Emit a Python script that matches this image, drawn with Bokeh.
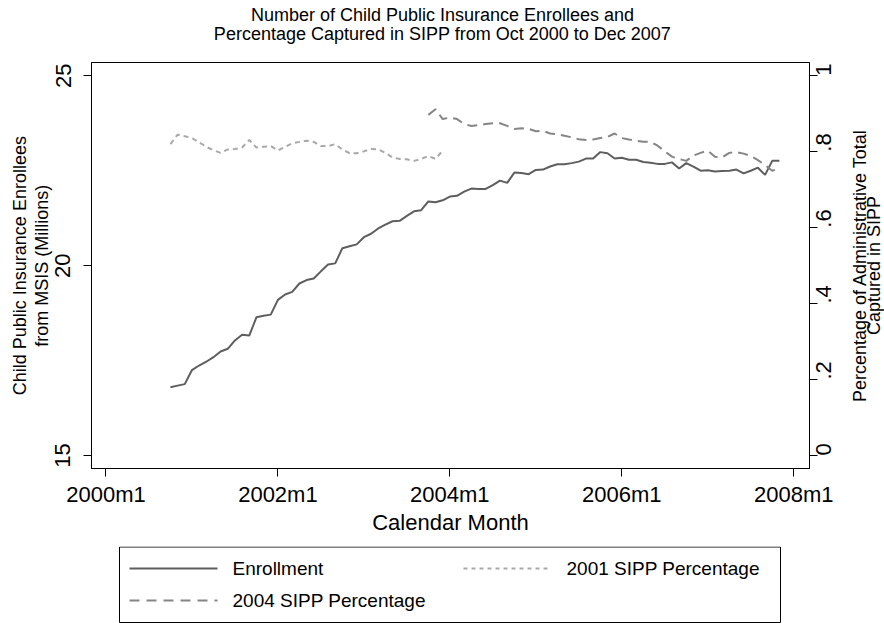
from math import pi
import pandas as pd
from bokeh.plotting import figure
from bokeh.layouts import column, row
from bokeh.models import Range1d, LinearAxis, FixedTicker
from bokeh.core.properties import value
from bokeh.embed import file_html
from bokeh.resources import INLINE

# ---------------- data ----------------
enroll_start = "2000-10"
enrollment = [
    16.80, 16.84, 16.88, 17.25, 17.37, 17.47, 17.59, 17.74, 17.81, 18.03,
    18.18, 18.16, 18.64, 18.68, 18.71, 19.10, 19.24, 19.31, 19.53, 19.62,
    19.66, 19.85, 20.03, 20.06, 20.46, 20.51, 20.56, 20.75, 20.84, 20.98,
    21.08, 21.17, 21.18, 21.31, 21.43, 21.46, 21.69, 21.67, 21.72, 21.82,
    21.84, 21.95, 22.03, 22.02, 22.02, 22.12, 22.24, 22.18, 22.45, 22.44,
    22.41, 22.52, 22.53, 22.61, 22.67, 22.67, 22.70, 22.74, 22.82, 22.82,
    22.99, 22.96, 22.82, 22.84, 22.79, 22.79, 22.73, 22.71, 22.68, 22.68,
    22.72, 22.56, 22.70, 22.61, 22.50, 22.51, 22.48, 22.49, 22.50, 22.53,
    22.43, 22.50, 22.58, 22.39, 22.76, 22.76,
]

sipp2001_start = "2000-10"
sipp2001 = [
    0.820, 0.845, 0.841, 0.836, 0.825, 0.813, 0.804, 0.797, 0.806, 0.807,
    0.811, 0.831, 0.811, 0.813, 0.815, 0.803, 0.813, 0.822, 0.826, 0.829,
    0.826, 0.815, 0.815, 0.820, 0.806, 0.796, 0.796, 0.801, 0.807, 0.806,
    0.797, 0.785, 0.781, 0.780, 0.776, 0.781, 0.789, 0.781, 0.803,
]

sipp2004_start = "2003-10"
sipp2004 = [
    0.897, 0.912, 0.886, 0.890, 0.886, 0.873, 0.868, 0.870, 0.873, 0.875,
    0.875, 0.868, 0.860, 0.862, 0.860, 0.854, 0.855, 0.848, 0.846, 0.842,
    0.838, 0.833, 0.831, 0.832, 0.836, 0.839, 0.848, 0.836, 0.832, 0.829,
    0.826, 0.826, 0.816, 0.801, 0.787, 0.781, 0.776, 0.790, 0.797, 0.803,
    0.787, 0.785, 0.797, 0.799, 0.795, 0.789, 0.778, 0.765, 0.750, 0.756,
]

x_tick_months = ["2000-01", "2002-01", "2004-01", "2006-01", "2008-01"]
x_tick_labels = ["2000m1", "2002m1", "2004m1", "2006m1", "2008m1"]
left_ticks = [15, 20, 25]
right_ticks = [0, 0.2, 0.4, 0.6, 0.8, 1]
right_tick_labels = ["0", ".2", ".4", ".6", ".8", "1"]

series_names = ["Enrollment", "2001 SIPP Percentage", "2004 SIPP Percentage"]
title_lines = ["Number of Child Public Insurance Enrollees and",
               "Percentage Captured in SIPP from Oct 2000 to Dec 2007"]
left_title = ["Child Public Insurance Enrollees", "from MSIS (Millions)"]
right_title = ["Percentage of Administrative Total", "Captured in SIPP"]
x_title = "Calendar Month"


def month_index(s):
    per = pd.Period(s, "M")
    return (per.year - 2000) * 12 + per.month - 1


def months_from(start, n):
    i0 = month_index(start)
    return [i0 + k for k in range(n)]


# ---------------- styling ----------------
FONT = "Liberation Sans"
W = 884
TITLE_H = 60
MAIN_H = 486
LEG_H = 77
MAIN_W = 849             # main chart width; a 35px strip to its right holds the right title
BL, BR = 91, 75          # left / right borders of the title and legend strips
FW = W - BL - BR
C_ENR = "#5e5e5e"
C_01 = "#a9a9a9"
C_04 = "#858585"

X0, X1 = -2.02, 98.2
Y0, Y1 = 14.658, 25.35
P0, P1 = -0.0342, 1.035


def blank_fig(width, height, xr, yr, bl, br, bt, bb):
    f = figure(width=width, height=height, x_range=xr, y_range=yr,
               output_backend="svg", toolbar_location=None, title=None,
               x_axis_location=None, y_axis_location=None,
               min_border_left=bl, min_border_right=br, min_border_top=bt, min_border_bottom=bb)
    f.xgrid.visible = False
    f.ygrid.visible = False
    f.outline_line_color = None
    f.background_fill_color = "white"
    f.border_fill_color = "white"
    return f


# ---------------- title strip ----------------
tf = blank_fig(W, TITLE_H, Range1d(0, FW), Range1d(0, TITLE_H), BL, BR, 0, 0)
tf.text(x=[351, 351], y=[46, 27], text=title_lines, text_font=value(FONT),
        text_font_size="18px", text_color="black", text_align="center",
        text_baseline="middle")

# ---------------- main chart ----------------
p = figure(width=MAIN_W, height=MAIN_H, x_range=Range1d(X0, X1), y_range=Range1d(Y0, Y1),
           output_backend="svg", toolbar_location=None, title=None,
           min_border_left=BL, min_border_right=MAIN_W - 809, min_border_top=2,
           min_border_bottom=78)
p.extra_y_ranges = {"pct": Range1d(P0, P1)}
p.xgrid.visible = False
p.ygrid.visible = False
p.outline_line_color = "black"
p.outline_line_width = 1
p.outline_line_alpha = 1
p.background_fill_color = "white"
p.border_fill_color = "white"

xaxis = p.xaxis[0]
laxis = p.yaxis[0]
raxis = LinearAxis(y_range_name="pct")
p.add_layout(raxis, "right")

x_ticks = [month_index(m) for m in x_tick_months]
xaxis.ticker = FixedTicker(ticks=x_ticks)
xaxis.major_label_overrides = {t: lab for t, lab in zip(x_ticks, x_tick_labels)}
laxis.ticker = FixedTicker(ticks=left_ticks)
raxis.ticker = FixedTicker(ticks=right_ticks)
raxis.major_label_overrides = {t: lab for t, lab in zip(right_ticks, right_tick_labels)}

for ax in [xaxis, laxis, raxis]:
    ax.axis_line_color = "black"
    ax.axis_line_width = 1
    ax.major_tick_line_color = "black"
    ax.major_tick_line_width = 1
    ax.minor_tick_line_color = None
    ax.major_tick_out = 8
    ax.major_tick_in = 0
    ax.major_label_text_font = FONT
    ax.major_label_text_font_size = "22px"
    ax.major_label_text_color = "black"

xaxis.major_label_standoff = 5
xaxis.axis_label = x_title
xaxis.axis_label_standoff = 0
xaxis.axis_label_text_font = FONT
xaxis.axis_label_text_font_size = "22px"
xaxis.axis_label_text_font_style = "normal"
xaxis.axis_label_text_color = "black"

laxis.major_label_orientation = "vertical"
laxis.major_label_standoff = 13
raxis.major_label_orientation = pi / 2
raxis.major_label_standoff = 6


def left_text_axis(text, standoff):
    """Axis without line or ticks; its single centred label is one line of the y title."""
    ax = LinearAxis(ticker=FixedTicker(ticks=[20]), major_label_overrides={20: text},
                    axis_line_color=None, major_tick_line_color=None,
                    minor_tick_line_color=None, major_tick_out=0, major_tick_in=0,
                    minor_tick_out=0, minor_tick_in=0,
                    major_label_orientation="vertical", major_label_standoff=standoff,
                    major_label_text_font=FONT, major_label_text_font_size="18px",
                    major_label_text_color="black")
    p.add_layout(ax, "left")


left_text_axis(left_title[1], 0)
left_text_axis(left_title[0], -1)

p.line(months_from(enroll_start, len(enrollment)), enrollment,
       line_color=C_ENR, line_width=2)
p.line(months_from(sipp2001_start, len(sipp2001)), sipp2001, y_range_name="pct",
       line_color=C_01, line_width=2, line_dash="5 4")
p.line(months_from(sipp2004_start, len(sipp2004)), sipp2004, y_range_name="pct",
       line_color=C_04, line_width=2, line_dash="10 6")

# ---------------- right title strip (same vertical mapping as the main chart) ----------------
SW = W - MAIN_W
rs = blank_fig(SW, MAIN_H, Range1d(0, SW), Range1d(P0, P1), 0, 0, 2, 78)
rs.text(x=[10.3, 24.6], y=[(P0 + P1) / 2] * 2, text=right_title, angle=pi / 2,
        text_font=value(FONT), text_font_size="18px", text_color="black",
        text_align="center", text_baseline="middle")

# ---------------- legend strip ----------------
lg = blank_fig(W, LEG_H, Range1d(0, FW), Range1d(0, LEG_H), BL, BR, 0, 0)
lg.quad(left=[28], right=[689], bottom=[1], top=[76.5], fill_color=None,
        line_color="black", line_width=1)
row1, row2 = 55, 23
lg.line([38, 126], [row1, row1], line_color=C_ENR, line_width=2)
lg.line([372, 459], [row1, row1], line_color=C_01, line_width=2, line_dash="4 4")
lg.line([38, 126], [row2, row2], line_color=C_04, line_width=2, line_dash="10 7")
lg.text(x=[141, 475, 141], y=[row1, row1, row2], text=series_names,
        text_font=value(FONT), text_font_size="19px", text_color="black",
        text_align="left", text_baseline="middle")

layout = column(tf, row(p, rs, spacing=0), lg, spacing=0)
open("out.html", "w").write(file_html(layout, INLINE))
